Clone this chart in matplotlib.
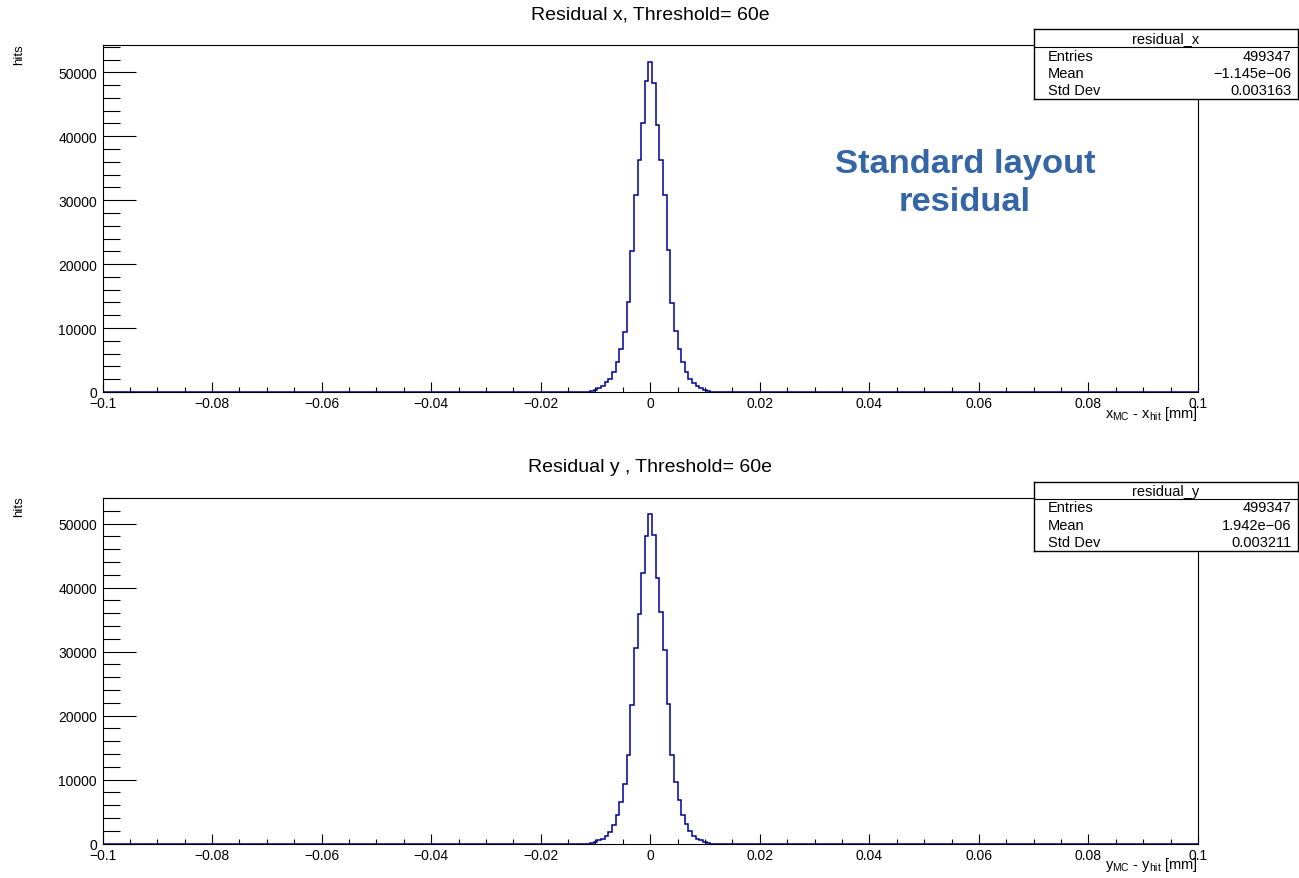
import numpy as np
import matplotlib
matplotlib.use('Agg')
import matplotlib.pyplot as plt
from matplotlib.ticker import MultipleLocator, FuncFormatter

plt.rcParams['font.family'] = ['Liberation Sans', 'DejaVu Sans']
plt.rcParams['mathtext.fontset'] = 'custom'
plt.rcParams['mathtext.rm'] = 'Liberation Sans'
plt.rcParams['mathtext.it'] = 'Liberation Sans:italic'

# histogram: 301 bins in [-0.1, 0.1], only the central ones are filled
nbins = 301
xmin, xmax = -0.1, 0.1
offsets = list(range(-16, 17))  # bin index relative to the centre bin
counts_x = [150, 350, 650, 1000, 1500, 2100, 3200, 4750, 6700, 9400, 14000, 22000,
            30800, 36250, 42000, 48600, 51690,
            48400, 41800, 36250, 30800, 22200, 13900, 9500, 6700, 4750, 3100, 2000,
            1400, 900, 600, 350, 150]
counts_y = [50, 200, 500, 700, 1200, 1750, 2900, 4500, 6500, 9300, 13900, 21600,
            30500, 35900, 42200, 48100, 51490,
            48250, 41500, 36200, 30300, 21800, 13900, 9660, 6800, 4500, 3000, 2000,
            1200, 700, 500, 250, 100]

titles = ['Residual x, Threshold= 60e', 'Residual y , Threshold= 60e']
xlabels = [r'x$_{\mathrm{MC}}$ - x$_{\mathrm{hit}}$ [mm]',
           r'y$_{\mathrm{MC}}$ - y$_{\mathrm{hit}}$ [mm]']
stat_names = ['residual_x', 'residual_y']
entries = ['499347', '499347']
means = ['\u22121.145e\u221206', '1.942e\u221206']
stddevs = ['0.003163', '0.003211']

W, H = 1299, 879
fig = plt.figure(figsize=(W / 100, H / 100), dpi=100)


def fx(px):
    return px / W


def fy(py):
    return 1 - py / H


def xfmt(v, pos):
    v = round(v, 4)
    if abs(v) < 1e-9:
        return '0'
    return ('%g' % v).replace('-', '\u2212')


edges = np.linspace(xmin, xmax, nbins + 1)
centre = nbins // 2

# pixel layout of the two pads
pads = [dict(top=46, bottom=393, box=(29.5, 48, 100), title_y=15, xlab_y=414, hits_y=44),
        dict(top=498.5, bottom=844.5, box=(483, 499.5, 552), title_y=468, xlab_y=865, hits_y=496)]
left, right = 102.5, 1198

for i, p in enumerate(pads):
    ax = fig.add_axes([fx(left), fy(p['bottom']), fx(right - left), (p['bottom'] - p['top']) / H])
    c = counts_x if i == 0 else counts_y
    full = np.zeros(nbins)
    for o, v in zip(offsets, c):
        full[centre + o] = v
    ax.stairs(full, edges, color='#000099', lw=1.1)
    ax.set_xlim(xmin, xmax)
    ax.set_ylim(0, max(c) * 1.05)
    ax.xaxis.set_major_locator(MultipleLocator(0.02))
    ax.xaxis.set_minor_locator(MultipleLocator(0.005))
    ax.yaxis.set_major_locator(MultipleLocator(10000))
    ax.yaxis.set_minor_locator(MultipleLocator(2000))
    ax.xaxis.set_major_formatter(FuncFormatter(xfmt))
    ax.yaxis.set_major_formatter(FuncFormatter(lambda v, pos: '%d' % v))
    ax.tick_params(axis='x', which='major', direction='in', length=7.5, width=0.8, labelsize=10, pad=3)
    ax.tick_params(axis='x', which='minor', direction='in', length=3.8, width=0.8)
    ax.tick_params(axis='y', which='major', direction='in', length=24, width=0.8, labelsize=10, pad=4)
    ax.tick_params(axis='y', which='minor', direction='in', length=12, width=0.8)
    for s in ax.spines.values():
        s.set_linewidth(0.8)

    fig.text(fx(650), fy(p['title_y']), titles[i], ha='center', va='center', fontsize=14)
    fig.text(fx(right), fy(p['xlab_y']), xlabels[i], ha='right', va='center', fontsize=10.5)
    fig.text(fx(19), fy(p['hits_y']), 'hits', ha='center', va='top', rotation=90, fontsize=9.5)

    # stats box
    t, sep, b = p['box']
    bx = fig.add_axes([fx(1034), fy(b), fx(1298 - 1034), (b - t) / H], zorder=5)
    bx.set_xlim(0, 1)
    bx.set_ylim(b, t)
    bx.set_xticks([])
    bx.set_yticks([])
    bx.set_facecolor('white')
    for s in bx.spines.values():
        s.set_linewidth(1.0)
    bx.axhline(sep, color='black', lw=0.8)
    bx.text(0.5, (t + sep) / 2 + 0.5, stat_names[i], ha='center', va='center', fontsize=10.5)
    row_h = (b - sep) / 3
    rows = [('Entries', entries[i]), ('Mean', means[i]), ('Std Dev', stddevs[i])]
    for k, (name, val) in enumerate(rows):
        yy = sep + row_h * (k + 0.5)
        bx.text(14 / 264, yy, name, ha='left', va='center', fontsize=10.5)
        bx.text(257.5 / 264, yy, val, ha='right', va='center', fontsize=10.5)

fig.text(fx(965), fy(165), 'Standard layout', ha='center', va='center', fontsize=24.8,
         fontweight='bold', color='#3465a4')
fig.text(fx(965), fy(203), 'residual', ha='center', va='center', fontsize=24.8,
         fontweight='bold', color='#3465a4')

fig.savefig('out.png', dpi=100)
